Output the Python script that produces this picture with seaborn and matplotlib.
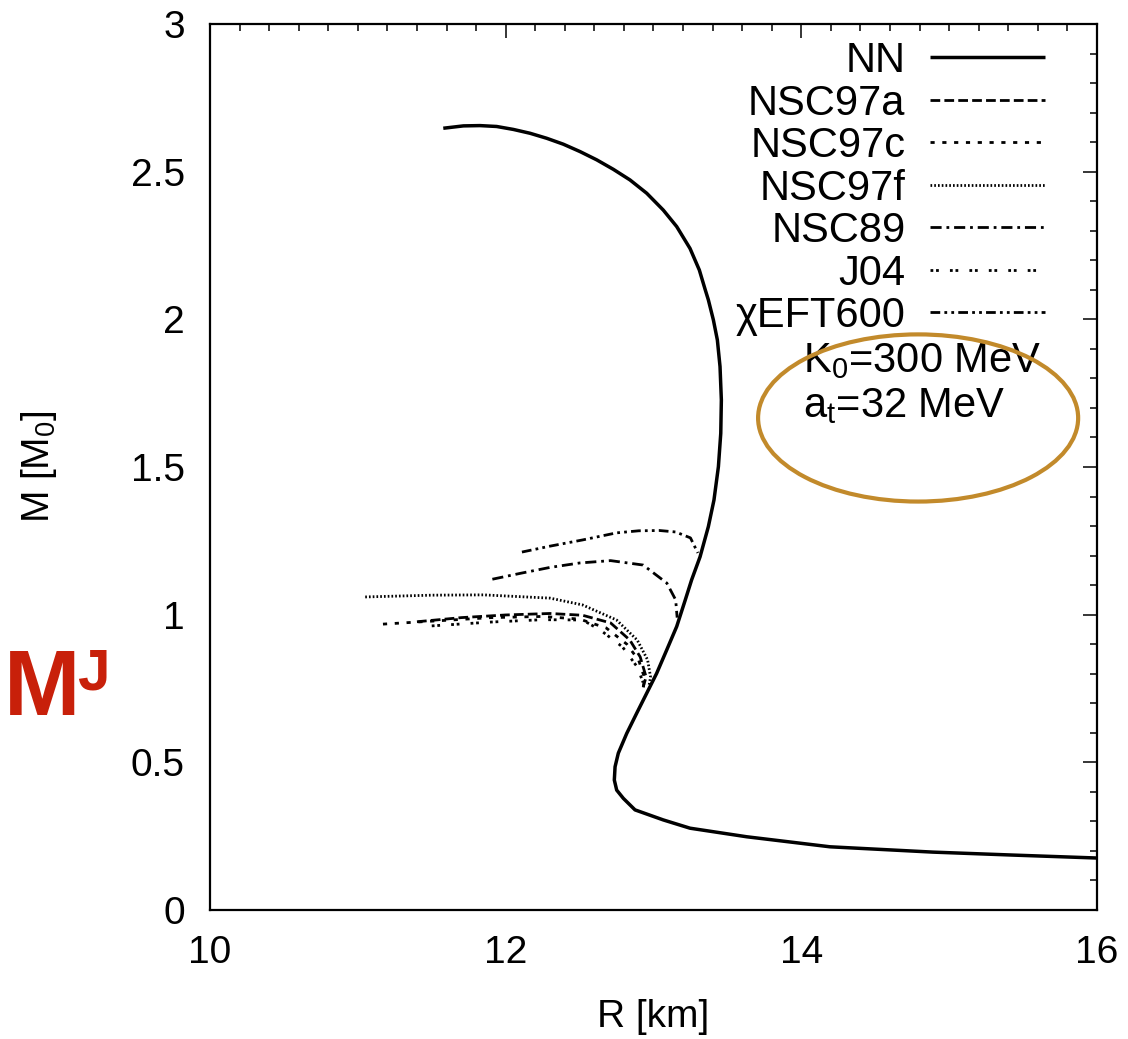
import numpy as np
import pandas as pd
import matplotlib
matplotlib.use("Agg")
import matplotlib.pyplot as plt
from matplotlib.patches import Ellipse
from matplotlib.ticker import MultipleLocator
import seaborn as sns

# mass-radius curves
R_nn = [11.578, 11.714, 11.826, 11.939, 12.052, 12.165, 12.278, 12.390, 12.503,
        12.616, 12.728, 12.841, 12.954, 13.066, 13.157, 13.247, 13.310, 13.350,
        13.371, 13.405, 13.432, 13.450, 13.459, 13.455, 13.439, 13.409, 13.371,
        13.315, 13.258, 13.215, 13.157, 13.089, 13.021, 12.954, 12.886, 12.819,
        12.762, 12.740, 12.735, 12.751, 12.796, 12.875, 13.066, 13.247, 13.630,
        14.194, 14.890, 15.430, 16.000]
M_nn = [2.647, 2.655, 2.656, 2.653, 2.643, 2.630, 2.613, 2.593, 2.568,
        2.540, 2.508, 2.472, 2.427, 2.370, 2.314, 2.240, 2.167, 2.100,
        2.066, 1.998, 1.930, 1.840, 1.727, 1.614, 1.501, 1.388, 1.298,
        1.196, 1.118, 1.050, 0.960, 0.880, 0.801, 0.734, 0.666, 0.598,
        0.531, 0.485, 0.440, 0.406, 0.378, 0.339, 0.305, 0.277, 0.248,
        0.214, 0.196, 0.186, 0.176]

R_97a = [11.40, 11.70, 12.00, 12.30, 12.52, 12.71, 12.84, 12.91, 12.95, 12.93]
M_97a = [0.976, 0.990, 0.999, 1.004, 0.998, 0.972, 0.914, 0.857, 0.789, 0.755]

R_97c = [11.17, 11.50, 11.90, 12.25, 12.50, 12.68, 12.82, 12.90, 12.94, 12.93]
M_97c = [0.968, 0.978, 0.990, 0.994, 0.985, 0.955, 0.900, 0.845, 0.785, 0.750]

R_97f = [11.05, 11.50, 11.85, 12.30, 12.52, 12.75, 12.89, 12.96, 12.98, 12.97]
M_97f = [1.060, 1.066, 1.067, 1.056, 1.033, 0.982, 0.914, 0.847, 0.789, 0.760]

R_89 = [11.91, 12.10, 12.30, 12.50, 12.71, 12.93, 13.09, 13.15, 13.16]
M_89 = [1.120, 1.140, 1.160, 1.175, 1.183, 1.168, 1.107, 1.050, 0.990]

R_j04 = [11.50, 11.90, 12.25, 12.52, 12.64, 12.79, 12.89, 12.93]
M_j04 = [0.962, 0.975, 0.983, 0.982, 0.948, 0.891, 0.823, 0.770]

R_eft = [12.11, 12.30, 12.52, 12.75, 12.90, 13.04, 13.15, 13.25, 13.30]
M_eft = [1.212, 1.232, 1.253, 1.277, 1.284, 1.285, 1.280, 1.260, 1.209]

models = ["NN", "NSC97a", "NSC97c", "NSC97f", "NSC89", "J04", "\u03c7EFT600"]
curves = [(R_nn, M_nn), (R_97a, M_97a), (R_97c, M_97c), (R_97f, M_97f),
          (R_89, M_89), (R_j04, M_j04), (R_eft, M_eft)]

styles = {
    "NN": (0, ()),
    "NSC97a": (0, (7, 3)),
    "NSC97c": (0, (3, 5.5)),
    "NSC97f": (0, (1.2, 1.5)),
    "NSC89": (0, (8, 3.5, 2, 3.5)),
    "J04": (0, (2, 2, 2, 8)),
    "\u03c7EFT600": (0, (7, 3, 2, 3, 2, 3)),
}

sns.set_style("white")
plt.rcParams["font.family"] = ["Liberation Sans", "DejaVu Sans"]
plt.rcParams["mathtext.fontset"] = "custom"
plt.rcParams["mathtext.rm"] = "Liberation Sans"
plt.rcParams["mathtext.it"] = "Liberation Sans"
plt.rcParams["lines.scale_dashes"] = False
plt.rcParams["text.color"] = "black"
plt.rcParams["axes.labelcolor"] = "black"

fig = plt.figure(figsize=(11.28, 10.39), dpi=100)
ax = fig.add_axes([210 / 1128, 129 / 1039, 887 / 1128, 886 / 1039])

for name, (r, m) in zip(models, curves):
    df = pd.DataFrame({"R": r, "M": m})
    sns.lineplot(data=df, x="R", y="M", sort=False, estimator=None, ax=ax,
                 color="black", lw=2.5 if name == "NN" else 2.0,
                 linestyle=styles[name], label=name)

ax.set_xlim(10, 16)
ax.set_ylim(0, 3)
ax.xaxis.set_minor_locator(MultipleLocator(0.2))
ax.yaxis.set_minor_locator(MultipleLocator(0.1))
ax.set_xticks([10, 12, 14, 16], ["10", "12", "14", "16"])
ax.set_yticks([0, 0.5, 1, 1.5, 2, 2.5, 3], ["0", "0.5", "1", "1.5", "2", "2.5", "3"])
ax.tick_params(which="both", direction="in", top=True, right=True, width=1.1,
               labelsize=28, pad=18, colors="black")
ax.tick_params(which="major", length=10)
ax.tick_params(which="minor", length=5)
for s in ax.spines.values():
    s.set_linewidth(1.6)
    s.set_color("black")

ax.set_xlabel("R [km]", fontsize=28)
ax.set_ylabel("M [M$_0$]", fontsize=28)
ax.xaxis.set_label_coords(0.5, -0.1)
ax.yaxis.set_label_coords(-0.17, 0.5)

leg = ax.legend(loc="upper right", bbox_to_anchor=(0.9414, 0.9808), frameon=False,
                markerfirst=False, fontsize=30, handlelength=2.75, handletextpad=0.6,
                labelspacing=0.06, borderpad=0.0, borderaxespad=0.0)

ax.text(14.01, 1.822, "K$_0$=300 MeV", fontsize=30, va="baseline")
ax.text(14.01, 1.669, "a$_t$=32 MeV", fontsize=30, va="baseline")

ax.add_patch(Ellipse((14.79, 1.666), 2.165, 0.566, fill=False,
                     edgecolor="#c28a2b", lw=3.0, zorder=5))

fig.text(0.003, 1 - 715 / 1039, "M", color="#c8200a", fontsize=66,
         fontweight="bold", va="baseline", ha="left")
fig.text(77 / 1128, 1 - 690 / 1039, "J", color="#c8200a", fontsize=42,
         fontweight="bold", va="baseline", ha="left")

fig.savefig("out.png", dpi=100)
